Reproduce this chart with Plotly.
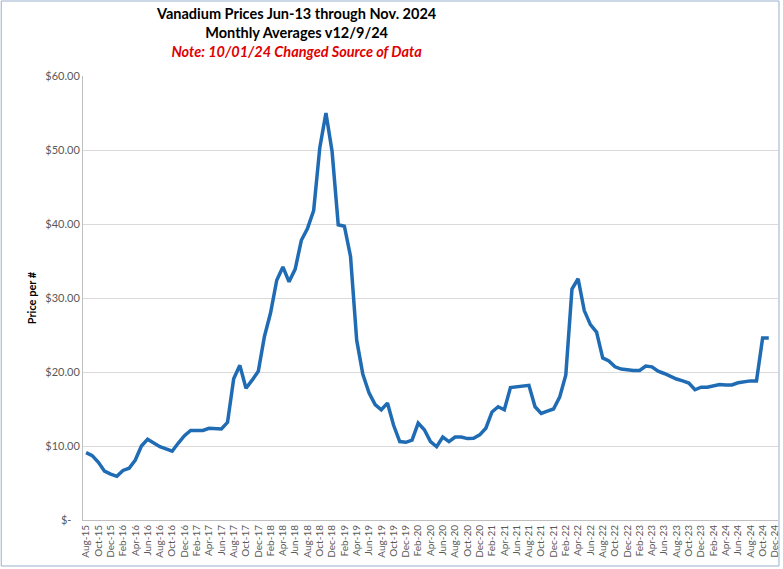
import plotly.graph_objects as go

months = ["Aug-15","Sep-15","Oct-15","Nov-15","Dec-15",
          "Jan-16","Feb-16","Mar-16","Apr-16","May-16","Jun-16","Jul-16","Aug-16","Sep-16","Oct-16","Nov-16","Dec-16",
          "Jan-17","Feb-17","Mar-17","Apr-17","May-17","Jun-17","Jul-17","Aug-17","Sep-17","Oct-17","Nov-17","Dec-17",
          "Jan-18","Feb-18","Mar-18","Apr-18","May-18","Jun-18","Jul-18","Aug-18","Sep-18","Oct-18","Nov-18","Dec-18",
          "Jan-19","Feb-19","Mar-19","Apr-19","May-19","Jun-19","Jul-19","Aug-19","Sep-19","Oct-19","Nov-19","Dec-19",
          "Jan-20","Feb-20","Mar-20","Apr-20","May-20","Jun-20","Jul-20","Aug-20","Sep-20","Oct-20","Nov-20","Dec-20",
          "Jan-21","Feb-21","Mar-21","Apr-21","May-21","Jun-21","Jul-21","Aug-21","Sep-21","Oct-21","Nov-21","Dec-21",
          "Jan-22","Feb-22","Mar-22","Apr-22","May-22","Jun-22","Jul-22","Aug-22","Sep-22","Oct-22","Nov-22","Dec-22",
          "Jan-23","Feb-23","Mar-23","Apr-23","May-23","Jun-23","Jul-23","Aug-23","Sep-23","Oct-23","Nov-23","Dec-23",
          "Jan-24","Feb-24","Mar-24","Apr-24","May-24","Jun-24","Jul-24","Aug-24","Sep-24","Oct-24","Nov-24","Dec-24"]

prices = [9.1, 8.7, 7.8, 6.6, 6.2,
          5.9, 6.7, 7.0, 8.1, 10.0, 10.9, 10.4, 9.9, 9.6, 9.3, 10.4, 11.4,
          12.1, 12.1, 12.1, 12.4, 12.3, 12.3, 13.2, 19.1, 20.9, 17.8, 18.9, 20.1,
          24.8, 28.0, 32.4, 34.2, 32.2, 33.9, 37.8, 39.4, 41.8, 50.3, 55.0, 49.8,
          39.9, 39.7, 35.6, 24.3, 19.7, 17.2, 15.6, 14.9, 15.8, 12.8, 10.6, 10.5,
          10.8, 13.1, 12.2, 10.6, 9.9, 11.2, 10.6, 11.2, 11.2, 11.0, 11.05, 11.5,
          12.4, 14.6, 15.3, 14.9, 17.9, 18.0, 18.2, 18.2, 15.3, 14.4, 14.7, 15.0,
          16.6, 19.6, 31.2, 32.6, 28.3, 26.4, 25.4, 21.9, 21.5, 20.7, 20.4, 20.25,
          20.2, 20.2, 20.8, 20.7, 20.1, 19.8, 19.4, 19.05, 18.8, 18.5, 17.6, 17.95,
          17.95, 18.15, 18.3, 18.25, 18.25, 18.55, 18.7, 18.8, 18.8, 24.6, 24.6, None]

tick_labels = months[::2]
y_ticks = [0, 10, 20, 30, 40, 50, 60]
y_tick_text = ["$-\u00a0\u00a0\u00a0", "$10.00", "$20.00", "$30.00", "$40.00", "$50.00", "$60.00"]

W, H = 783, 569
L, R, T, B = 83, 780, 76, 520
FONT = "Lato"

def px(x):
    return (x - L) / (R - L)

def py(y):
    return (B - y) / (B - T)

fig = go.Figure()
fig.add_trace(go.Scatter(
    x=months, y=prices, mode="lines",
    line=dict(color="#1f6cb4", width=3.5),
    connectgaps=False, showlegend=False, hoverinfo="x+y"))

fig.update_layout(
    width=W, height=H,
    margin=dict(l=L, r=W - R, t=T, b=H - B),
    paper_bgcolor="white", plot_bgcolor="white",
    font=dict(family=FONT, color="#595959"),
    xaxis=dict(type="category", categoryorder="array", categoryarray=months,
               range=[-0.5, len(months) - 0.5],
               tickmode="array", tickvals=tick_labels, ticktext=tick_labels,
               tickangle=-90, tickfont=dict(size=10, color="#595959"),
               showgrid=False, showline=True, linecolor="#bfbfbf", linewidth=1,
               ticks="", zeroline=False, fixedrange=True),
    yaxis=dict(range=[0, 60], tickmode="array", tickvals=y_ticks, ticktext=y_tick_text,
               tickfont=dict(size=11, color="#595959"),
               showgrid=True, gridcolor="#d9d9d9", gridwidth=1,
               showline=True, linecolor="#bfbfbf", linewidth=1,
               ticks="", ticklen=0, zeroline=False,
               title=dict(text="<b>Price per #</b>", font=dict(size=11, color="#000000"), standoff=6)),
)

fig.add_annotation(
    xref="paper", yref="paper", x=px(297), y=py(3), xanchor="center", yanchor="top",
    showarrow=False, align="center",
    text=("<b>Vanadium Prices Jun-13 through Nov. 2024</b><br>"
          "<b>Monthly Averages v12/9/24</b><br>"
          "<span style='color:#e00000'><b><i>Note: 10/01/24 Changed Source of Data</i></b></span>"),
    font=dict(family=FONT, size=14.5, color="#000000"),
)

fig.add_shape(type="rect", xref="paper", yref="paper",
              x0=px(1), x1=px(781), y0=py(566), y1=py(1),
              line=dict(color="#9bb0cc", width=1), fillcolor="rgba(0,0,0,0)", layer="above")

fig.write_html("out.html")
